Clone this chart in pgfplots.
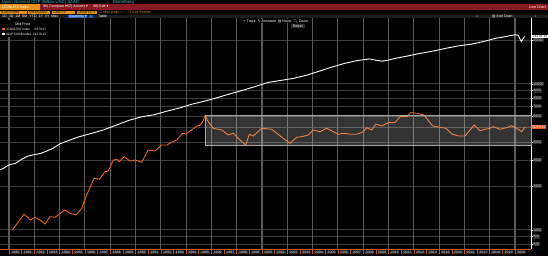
\documentclass[border=0pt]{standalone}
\usepackage{fontspec}
\setmainfont{Liberation Sans}
\newfontfamily\dejavu{DejaVu Sans}
\newfontfamily\emoji{Noto Emoji}
\usepackage{pgfplots}
\pgfplotsset{compat=1.18}
\definecolor{bgrid}{HTML}{3C3C3C}
\definecolor{bvgrid}{HTML}{5A5A5A}
\definecolor{borange}{HTML}{E8641E}
\definecolor{bamber}{HTML}{E8921E}
\definecolor{bred}{HTML}{8A1A22}
\definecolor{bcyan}{HTML}{3FB8C8}
\definecolor{bbar}{HTML}{1E1E1E}
\definecolor{bblue}{HTML}{2060C0}
\definecolor{blabel}{HTML}{2C2C2C}
\definecolor{btext}{HTML}{C8D2E0}
\newcommand\tf{\fontsize{3.6}{4}\selectfont}
\newcommand\lf{\fontsize{3.2}{4}\selectfont}
\newcommand\hf{\fontsize{4.3}{5}\selectfont}
\begin{document}
\begin{tikzpicture}[x=1pt,y=1pt]
\useasboundingbox (0,0) rectangle (548,256);
\fill[black] (0,0) rectangle (548,256);
\begin{axis}[
 at={(0pt,7pt)}, anchor=south west, scale only axis,
 width=531pt, height=230.5pt,
 clip mode=individual,
 xmin=1979.29, xmax=2021.265,
 ymode=log, ymin=741, ymax=28090,
 axis x line*=bottom, axis y line*=right,
 x axis line style={draw=borange!85!black, line width=0.8pt, -},
 y axis line style={draw=white!85, line width=0.8pt, -},
 tick align=outside,
 major tick length=1.5pt,
 xtick={1980,1981,...,2020},
 xticklabels={1980,1981,1982,1983,1984,1985,1986,1987,1988,1989,1990,1991,1992,1993,1994,1995,1996,1997,1998,1999,2000,2001,2002,2003,2004,2005,2006,2007,2008,2009,2010,2011,2012,2013,2014,2015,2016,2017,2018,2019,2020},
 xticklabel style={font=\tf, text=btext, fill=blabel, inner sep=0.6pt, xshift=6.32pt, anchor=north},
 xtick style={draw=borange!85!black, line width=0.5pt, /pgfplots/major tick length=5pt},
 ytick={800,900,1000,2000,3000,4000,5000,6000,7000,8000,9000,10000,20000},
 yticklabels={800,900,1000,2000,3000,4000,{},6000,7000,8000,9000,10000,20000},
 yticklabel style={font=\tf, text=btext, fill=blabel, inner sep=0.6pt, anchor=west},
 ytick style={draw=white!85, line width=0.5pt},
 ymajorgrids,
 major grid style={draw=bgrid, line width=1pt},
]
% vertical grid every two years
\pgfplotsinvokeforeach{1980,1982,...,2020}{
  \draw[draw=bvgrid, line width=1.1pt] (axis cs:#1,741) -- (axis cs:#1,28090);
}
% GDP CUR$ Index (white)
\addplot[white, line width=0.9pt] coordinates {
(1979.0,2526)(1979.5,2627)(1980.0,2790)(1980.5,2857)(1981.0,3050)(1981.5,3207)
(1982.0,3280)(1982.5,3344)(1983.0,3480)(1983.5,3634)(1984.0,3880)(1984.5,4038)
(1985.5,4339)(1986.5,4580)(1987.5,4855)(1988.5,5236)(1989.5,5642)(1990.5,5963)
(1991.5,6158)(1992.5,6520)(1993.5,6859)(1994.5,7287)(1995.5,7640)(1996.5,8073)
(1997.5,8578)(1998.5,9063)(1999.5,9631)(2000.5,10251)(2001.5,10582)(2002.5,10936)
(2003.5,11458)(2004.5,12214)(2005.5,13037)(2006.5,13815)(2007.5,14452)(2008.5,14843)
(2009.0,14550)(2009.5,14340)(2010.0,14570)(2010.5,14960)(2011.5,15543)(2012.5,16197)
(2013.5,16785)(2014.5,17527)(2015.5,18225)(2016.5,18715)(2017.5,19519)(2018.5,20580)
(2019.0,20900)(2019.5,21340)(2020.0,21730)(2020.25,21560)(2020.5,19520)(2020.75,21176)
};
% JCONUPS Index (orange)
\addplot[borange, line width=0.9pt] coordinates {
(1980.26,1000)(1981.19,1281)(1981.72,1171)(1982.06,1222)(1982.45,1171)(1982.85,1099)
(1983.24,1233)(1983.64,1222)(1984.43,1371)(1984.82,1301)(1985.30,1267)(1985.75,1408)
(1986.14,1737)(1986.74,2261)(1987.14,2225)(1987.59,2508)(1987.85,2536)(1988.25,3017)
(1988.56,3050)(1988.72,2937)(1989.09,3177)(1989.57,2970)(1989.96,3017)(1990.49,2909)
(1991.01,3531)(1991.54,3476)(1992.07,3822)(1992.47,3822)(1992.86,3988)(1993.26,4135)
(1993.73,4596)(1993.99,4546)(1994.44,4841)(1994.84,5157)(1995.10,5214)(1995.36,5605)
(1995.49,6085)(1995.75,5518)(1996.15,4973)(1996.81,4841)(1997.34,4473)(1997.73,4596)
(1998.26,4135)(1998.71,3822)(1999.00,4524)(1999.31,4403)(1999.98,4973)(2000.77,4894)
(2001.16,4596)(2001.68,4246)(2002.21,3925)(2002.74,4314)(2003.14,4355)(2003.66,4473)
(2004.06,4841)(2004.58,4712)(2005.11,4973)(2005.64,4712)(2006.03,4524)(2006.43,4596)
(2006.96,4524)(2007.49,4524)(2008.01,4712)(2008.28,5018)(2008.67,4841)(2009.01,5321)
(2009.46,5157)(2009.98,5432)(2010.51,5432)(2010.91,5970)(2011.44,5970)(2011.75,6359)
(2012.23,6300)(2012.81,6133)(2013.15,5605)(2013.49,5157)(2014.07,5050)(2014.55,4973)
(2015.00,4546)(2015.52,4403)(2016.05,4403)(2016.44,4841)(2016.78,5240)(2017.23,4786)
(2017.63,4894)(2018.02,4973)(2018.28,5099)(2018.81,4894)(2019.34,5018)(2019.74,5182)
(2020.13,4973)(2020.53,4712)(2020.79,5079.37)
};
% highlighted range box
\fill[white, fill opacity=0.2] (axis cs:1995.49,3780) rectangle (axis cs:2021.265,6133);
\draw[gray!70, line width=0.8pt] (axis cs:1995.49,3780) rectangle (axis cs:2021.265,6133);
% last value labels
\node[fill=white, text=black, font=\tf, inner sep=0.6pt, anchor=west, xshift=0.8pt] at (axis cs:2021.265,21176) {21176.15};
\node[fill=borange, text=white, font=\tf, inner sep=0.6pt, anchor=west, xshift=0.8pt] at (axis cs:2021.265,5079.37) {5079.37};
\end{axis}
% ---- Bloomberg header ----
\node[anchor=west, text=bcyan, font=\hf, inner sep=0] at (1,253.8) {Japan Nominal GDP (Billion USD) SAAR};
\node[anchor=west, text=bcyan, font=\hf, inner sep=0] at (113,253.8) {Bloomberg};
\fill[bred] (40,246) rectangle (548,252);
\fill[bamber] (0,246) rectangle (39.5,252);
\node[anchor=west, text=white, font=\tf, inner sep=0] at (1.5,249) {JCONUPS Index};
\node[anchor=west, text=white, font=\tf, inner sep=0] at (43,249) {96) Compare {\dejavu ▾}};
\node[anchor=west, text=white, font=\tf, inner sep=0] at (67,249) {97) Actions {\dejavu ▾}};
\node[anchor=west, text=white, font=\tf, inner sep=0] at (93,249) {98) Edit {\dejavu ▾}};
\node[anchor=east, text=white, font=\tf, inner sep=0] at (546,249) {Line Chart};
\fill[bamber] (0,241.8) rectangle (26.5,245.2);
\fill[bamber] (27.5,241.8) rectangle (50,245.2);
\fill[bamber] (52,241.8) rectangle (75,245.2);
\fill[bamber] (76.5,241.8) rectangle (97,245.2);
\node[anchor=west, text=black, font=\tf, inner sep=0] at (1,243.5) {01/01/1980};
\node[anchor=west, text=black, font=\tf, inner sep=0] at (29,243.5) {09/30/2020};
\node[anchor=west, text=black, font=\tf, inner sep=0] at (53.5,243.5) {Last Px};
\node[anchor=west, text=black, font=\tf, inner sep=0] at (78,243.5) {Local CCY};
\node[anchor=west, text=bamber, font=\tf, inner sep=0] at (99,243.5) {{\dejavu ☐} Mov Avgs {\dejavu ✓}};
\node[anchor=west, text=bamber, font=\tf, inner sep=0] at (128,243.5) {{\dejavu ☐} Key Events};
\fill[bbar] (0,237.5) rectangle (548,241.3);
\node[anchor=west, text=white, font=\tf, inner sep=0] at (2,239.4) {1D\ \ 3D\ \ 1M\ \ 6M\ \ YTD\ \ 1Y\ \ 5Y\ \ Max};
\fill[bblue] (68,237.9) rectangle (87,240.9);
\node[anchor=west, text=white, font=\tf, inner sep=0] at (69,239.4) {Quarterly {\dejavu ▾}};
\fill[bblue] (88.5,237.9) rectangle (93,240.9);
\node[anchor=west, text=white, font=\tf, inner sep=0] at (98,239.4) {Table};
\node[text=gray, font=\tf, inner sep=0] at (477,239.4) {\dejavu ◂};
\node[anchor=west, text=white, font=\tf, inner sep=0] at (492,239.4) {{\dejavu ▤} Edit Chart};
\node[text=gray, font=\tf, inner sep=0] at (536,239.4) {\dejavu ▸};
% toolbar over plot
\node[anchor=west, text=white!80, fill=black, font=\tf, inner sep=0.4pt] at (243,235) {+ Track\ \ {\dejavu ✎} Annotate\ \ {\dejavu ▤} News\ \ {\emoji 🔍} Zoom};
\fill[gray!35!black] (291,228) rectangle (304.5,232);
\node[text=white, font=\tf, inner sep=0] at (297.8,230) {Reset};
% legend
\fill[black] (0,219) rectangle (47,235.5);
\node[text=white!85, font=\tf, inner sep=0] at (23,232) {Mid Price};
\fill[borange] (1.5,225.6) rectangle (4.5,228.4);
\node[anchor=west, text=white, font=\lf, inner sep=0] at (5.8,227) {JCONUPS Index};
\node[anchor=east, text=white, font=\lf, inner sep=0] at (46.5,227) {5079.37};
\fill[white] (1.5,220.6) rectangle (4.5,223.4);
\node[anchor=west, text=white, font=\lf, inner sep=0] at (5.8,222) {GDP CUR\$ Index};
\node[anchor=east, text=white, font=\lf, inner sep=0] at (46.5,222) {21176.15};
\end{tikzpicture}
\end{document}
